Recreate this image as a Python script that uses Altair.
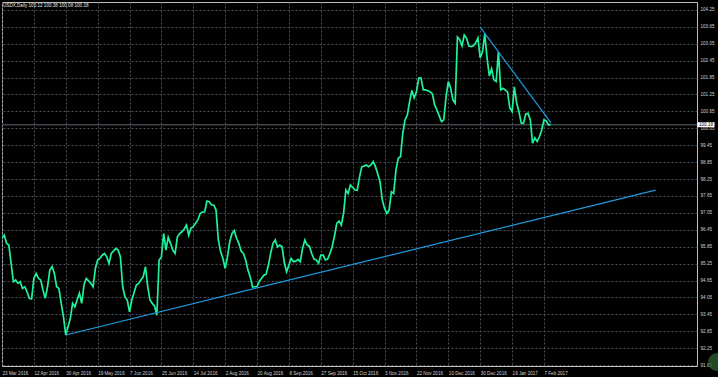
import altair as alt
import pandas as pd

# ---- data (bar index, daily close) ----
bars = [0, 1, 2, 3, 4, 5, 6, 7, 8, 9, 10, 11, 12, 13, 14, 15, 16, 17, 18, 19,
        20, 21, 22, 23, 24, 25, 26, 27, 28, 29, 30, 31, 32, 33, 34, 35, 36, 37, 39,
        40, 41, 42, 43, 44, 45, 46, 47, 48, 50, 51, 52, 53, 54, 55, 56, 57, 59,
        60, 61, 62, 63, 64, 65, 66, 67, 68, 69, 70, 71, 72, 73, 74, 75, 76, 77, 78, 79,
        80, 81, 82, 83, 84, 85, 86, 87, 88, 89, 90, 91, 92, 93, 94, 95, 96, 97, 98, 99,
        100, 101, 102, 103, 104, 105, 106, 107, 108, 109, 110, 111, 112, 113, 114, 115, 116, 117, 118, 119,
        120, 121, 122, 123, 124, 125, 126, 127, 128, 129, 130, 131, 132, 133, 134, 135, 136, 137, 138, 139,
        140, 141, 142, 143, 144, 145, 146, 147, 148, 149, 150, 151, 152, 153, 154, 155, 156, 157, 158, 159,
        160, 161, 162, 163, 164, 165, 166, 167, 168, 169, 170, 171, 172, 173, 174, 175, 176, 177, 178, 179,
        180, 181, 182, 183, 184, 185, 186, 187, 188, 189, 190, 191, 192, 193, 194, 195, 196, 197, 198, 199,
        200, 201, 202, 203, 204, 205, 206, 207, 208, 209, 210, 211, 212, 213, 214, 215, 216, 217, 218, 219,
        220, 221, 222, 223, 224, 225, 226, 227, 228, 229, 230, 231, 232, 233, 234, 235, 236, 237, 238, 239,
        240, 241]
closes = [96.15, 96.26, 95.97, 95.91, 95.26, 94.61, 94.67, 94.55, 94.61, 94.37,
          94.43, 94.25, 94.02, 94.00, 94.73, 94.90, 94.73, 94.67, 94.31, 94.02,
          94.43, 95.02, 95.14, 94.90, 94.43, 94.37, 93.84, 93.36, 92.72, 93.01,
          93.31, 93.84, 93.72, 93.96, 94.20, 93.84, 94.49, 94.73, 94.55,
          94.43, 95.08, 95.38, 95.44, 95.55, 95.61, 95.49, 95.26, 95.61, 95.79,
          95.73, 95.49, 94.43, 94.07, 93.96, 93.54, 93.96, 94.49,
          94.55, 94.67, 94.78, 95.14, 94.43, 93.96, 93.84, 93.74, 93.42, 95.38,
          95.49, 96.32, 95.73, 96.19, 95.97, 95.73, 95.61, 96.19, 96.32, 96.38,
          96.48, 96.62, 96.26, 96.51, 96.56, 96.68, 96.80, 97.03, 97.08, 97.09,
          97.47, 97.45, 97.33, 97.33, 97.15, 96.09, 95.67, 95.44, 95.08, 95.48,
          96.03, 96.32, 96.42, 96.15, 95.97, 95.70, 95.61, 95.38, 95.02, 94.78,
          94.42, 94.43, 94.44, 94.63, 94.73, 94.84, 94.88, 95.20, 95.63, 95.97,
          96.09, 95.84, 95.91, 95.85, 95.27, 94.96, 95.20, 95.44, 95.32, 95.34,
          95.40, 95.32, 95.80, 96.09, 95.91, 95.87, 95.61, 95.41, 95.38, 95.26,
          95.55, 95.55, 95.38, 95.41, 95.61, 95.85, 96.23, 96.68, 96.76, 96.62,
          97.03, 97.86, 97.74, 98.04, 97.95, 97.86, 97.85, 98.33, 98.69, 98.71,
          98.75, 98.69, 98.75, 98.87, 98.69, 98.43, 98.16, 97.51, 97.21, 97.03,
          97.15, 97.80, 97.74, 98.57, 98.99, 99.04, 99.88, 100.35, 100.52, 101.00,
          101.39, 101.13, 101.35, 101.83, 101.84, 101.41, 101.41, 101.38, 101.35, 101.27,
          100.88, 100.70, 100.49, 100.29, 100.35, 101.17, 101.71, 101.48, 101.06, 100.94,
          103.29, 103.19, 102.97, 103.36, 103.25, 102.97, 102.95, 102.98, 103.08, 103.25,
          102.55, 102.76, 103.40, 102.55, 101.91, 102.16, 101.77, 101.71, 102.76, 101.41,
          101.47, 101.41, 101.34, 100.77, 100.64, 101.52, 100.95, 100.64, 100.24, 100.23,
          100.56, 100.58, 100.35, 99.52, 99.71, 99.58, 99.75, 99.99, 100.35, 100.31,
          100.17, 100.18]

date_ticks = [0, 14, 28, 42, 56, 70, 84, 98, 112, 126, 140, 154, 168, 182, 196, 210, 224, 238]
date_labels = ["23 Mar 2016", "12 Apr 2016", "30 Apr 2016", "19 May 2016", "7 Jun 2016",
               "25 Jun 2016", "14 Jul 2016", "2 Aug 2016", "20 Aug 2016", "8 Sep 2016",
               "27 Sep 2016", "15 Oct 2016", "3 Nov 2016", "22 Nov 2016", "10 Dec 2016",
               "30 Dec 2016", "19 Jan 2017", "7 Feb 2017"]
price_ticks = [91.65, 92.25, 92.85, 93.45, 94.05, 94.65, 95.25, 95.85, 96.45, 97.05, 97.65,
               98.25, 98.85, 99.45, 100.05, 100.65, 101.25, 101.85, 102.45, 103.05, 103.65, 104.25]

support_bars = [28, 287]
support_vals = [92.72, 97.86]
resist_bars = [210, 241]
resist_vals = [103.64, 100.25]
last_close = 100.18
header = "USDX,Daily  100.12 100.38 100.08 100.18"

# ---- layout / style ----
W, H = 695, 364
FONT = "Liberation Sans"
FS = 4.6
LINE_GREEN = "#1ef29a"
TREND_BLUE = "#1e9be0"
GRID = "#4a525e"
TXT = "#d0d0d0"

xscale = alt.Scale(domain=[0, 305.2], nice=False, zero=False)
yscale = alt.Scale(domain=[91.62, 104.53], nice=False, zero=False)

price_df = pd.DataFrame({"bar": bars, "close": closes})
support_df = pd.DataFrame({"bar": support_bars, "close": support_vals})
resist_df = pd.DataFrame({"bar": resist_bars, "close": resist_vals})
last_df = pd.DataFrame({"close": [last_close], "label": [f"{last_close:.2f}"]})
head_df = pd.DataFrame({"t": [header]})

label_expr = "[" + ",".join(f"'{s}'" for s in date_labels) + "][round(datum.value/14)]"

x_axis = alt.Axis(values=date_ticks, labelExpr=label_expr, labelAlign="left",
                  labelBaseline="top", labelPadding=4, ticks=False, domain=False,
                  grid=True, gridDash=[2, 2], gridColor=GRID, gridWidth=1,
                  labelColor=TXT, labelFontSize=FS, labelFont=FONT, title=None,
                  labelOverlap=False, labelFlush=False)
y_axis = alt.Axis(orient="right", values=price_ticks, format=".2f", labelAlign="left",
                  labelBaseline="middle", labelPadding=3, ticks=False, domain=False,
                  grid=True, gridDash=[2, 2], gridColor=GRID, gridWidth=1,
                  labelColor=TXT, labelFontSize=FS, labelFont=FONT, title=None,
                  labelOverlap=False, labelFlush=False)

X = alt.X("bar:Q", scale=xscale, axis=x_axis)
Y = alt.Y("close:Q", scale=yscale, axis=y_axis)

price = alt.Chart(price_df).mark_line(color=LINE_GREEN, strokeWidth=1.7, clip=True).encode(x=X, y=Y)

bid_line = alt.Chart(last_df).mark_rule(color="#43474d", strokeWidth=1.5).encode(y=Y)

support = alt.Chart(support_df).mark_line(color=TREND_BLUE, strokeWidth=1.2, clip=True).encode(x=X, y=Y)
resist = alt.Chart(resist_df).mark_line(color=TREND_BLUE, strokeWidth=1.2, clip=True).encode(x=X, y=Y)

box = alt.Chart(last_df).mark_point(
    shape="M-1,-0.3L1,-0.3L1,0.3L-1,0.3Z", filled=True, color="white",
    opacity=1, size=289, strokeWidth=0
).encode(x=alt.value(W + 9), y=Y)

box_text = alt.Chart(last_df).mark_text(
    color="black", fontSize=FS, font=FONT, align="center", baseline="middle"
).encode(x=alt.value(W + 9), y=Y, text="label:N")

head = alt.Chart(head_df).mark_text(
    color="#e6e6e6", fontSize=FS, font=FONT, align="left", baseline="middle"
).encode(x=alt.value(1), y=alt.value(4), text="t:N")

badge = alt.Chart(head_df).mark_point(
    shape="circle", filled=True, color="#2c5a2e", opacity=0.8, size=320
).encode(x=alt.value(W + 20), y=alt.value(H - 4))

chart = alt.layer(bid_line, price, support, resist, box, box_text, head, badge).properties(
    width=W, height=H,
    autosize=alt.AutoSizeParams(type="none"),
    padding={"left": 2, "top": 2, "right": 21, "bottom": 11},
    background="black",
).configure_view(stroke="#c0c0c0", strokeWidth=1)

chart.save("out.html", embed_options={"renderer": "svg", "actions": False})
